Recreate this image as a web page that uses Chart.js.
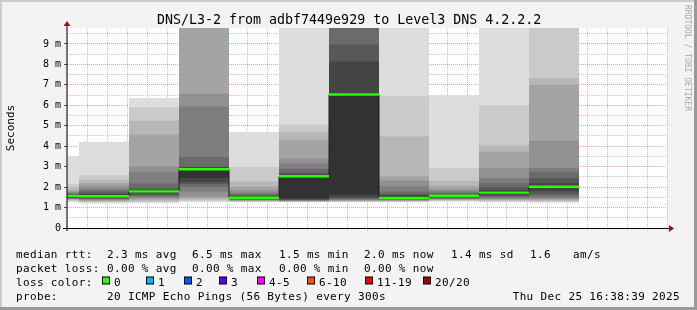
<!DOCTYPE html>
<html>
<head>
<meta charset="utf-8">
<title>DNS/L3-2 smokeping</title>
<script src="https://cdn.jsdelivr.net/npm/chart.js@4.4.1/dist/chart.umd.min.js"></script>
<style>
  html, body { margin: 0; padding: 0; background: #f3f3f3; }
  canvas { display: block; }
</style>
</head>
<body>
<canvas id="smoke" width="697" height="310"></canvas>
<script>
// ─── Data ──────────────────────────────────────────────
const viewStart = '15:38:48';
const viewEnd   = '16:38:48';
const yMaxMs    = 9.78;

// start of each 5 minute slot
const slotStart = ['15:35', '15:40', '15:45', '15:50', '15:55', '16:00',
                   '16:05', '16:10', '16:15', '16:20', '16:25'];

// median rtt per slot, ms
const medianRtt = [1.57, 1.55, 1.79, 2.87, 1.48, 2.53, 6.53, 1.47, 1.58, 1.73, 2.02];

// 20 sorted pings per slot, ms (values above the top are clipped)
const pingRtt = [
    [1.27, 1.32, 1.36, 1.39, 1.42, 1.44, 1.46, 1.48, 1.50, 1.54, 1.60, 1.63, 1.65, 1.68, 1.72, 1.78, 1.85, 1.99, 2.15, 3.51],
    [1.20, 1.26, 1.30, 1.33, 1.36, 1.39, 1.42, 1.45, 1.48, 1.52, 1.59, 1.66, 1.74, 1.82, 1.92, 2.05, 2.20, 2.35, 2.58, 4.21],
    [1.21, 1.27, 1.32, 1.38, 1.44, 1.50, 1.55, 1.60, 1.70, 1.76, 1.82, 1.87, 1.93, 2.17, 2.74, 3.02, 4.57, 5.25, 5.90, 6.36],
    [1.27, 1.32, 1.38, 1.45, 1.53, 1.78, 2.02, 2.15, 2.25, 2.45, 2.95, 2.96, 2.98, 3.47, 5.94, 6.56, 10.3, 11.5, 12.5, 14.0],
    [1.27, 1.29, 1.31, 1.33, 1.35, 1.37, 1.39, 1.41, 1.43, 1.45, 1.52, 1.56, 1.60, 1.66, 1.74, 1.86, 2.02, 2.27, 2.98, 4.70],
    [1.26, 1.28, 1.30, 1.31, 1.32, 1.34, 1.36, 1.38, 1.40, 1.44, 2.58, 2.62, 2.70, 2.90, 3.15, 3.40, 4.30, 4.71, 5.06, 11.0],
    [1.27, 1.29, 1.31, 1.33, 1.35, 1.38, 1.41, 1.45, 1.50, 1.62, 6.58, 8.14, 8.97, 10.2, 11.0, 12.0, 13.0, 14.0, 15.0, 16.0],
    [1.26, 1.29, 1.31, 1.33, 1.35, 1.37, 1.39, 1.41, 1.43, 1.45, 1.55, 1.60, 1.66, 1.79, 2.04, 2.32, 2.53, 4.48, 6.44, 11.0],
    [1.29, 1.32, 1.35, 1.38, 1.41, 1.43, 1.46, 1.49, 1.52, 1.55, 1.61, 1.64, 1.68, 1.72, 1.80, 1.90, 2.05, 2.30, 2.95, 6.48],
    [1.26, 1.30, 1.34, 1.38, 1.42, 1.46, 1.50, 1.55, 1.62, 1.68, 1.78, 1.86, 1.99, 2.20, 2.45, 2.94, 3.73, 4.05, 6.00, 11.0],
    [1.24, 1.28, 1.32, 1.37, 1.42, 1.47, 1.55, 1.65, 1.80, 1.95, 2.08, 2.20, 2.45, 2.75, 2.93, 4.27, 6.99, 7.33, 10.5, 12.0]
];

// legend texts
const titleText  = 'DNS/L3-2 from adbf7449e929 to Level3 DNS 4.2.2.2';
const rttStats   = ['2.3 ms avg', '6.5 ms max', '1.5 ms min', '2.0 ms now', '1.4 ms sd', '1.6', 'am/s'];
const lossStats  = ['0.00 % avg', '0.00 % max', '0.00 % min', '0.00 % now'];
const lossLabels = ['0', '1', '2', '3', '4-5', '6-10', '11-19', '20/20'];
const lossColors = ['#26ff00', '#00b8ff', '#0059ff', '#5e00ff', '#ff00ff', '#ff5500', '#ff0000', '#a10000'];
const probeText  = '20 ICMP Echo Pings (56 Bytes) every 300s';
const stampText  = 'Thu Dec 25 16:38:39 2025';

// ─── Shared config ─────────────────────────────────────
const MONO = "'DejaVu Sans Mono', monospace";
const C = {
    back:    '#f3f3f3',
    canvas:  '#ffffff',
    shadeA:  '#cbcbcb',
    shadeB:  '#999999',
    axis:    '#000000',
    arrow:   '#a01010',
    mgrid:   'rgba(255,0,0,0.38)',
    grid:    'rgba(140,140,140,0.5)',
    median:  '#202020',
    text:    '#000000',
    tick:    { size: 10, family: MONO }
};
const STEP = 5;          // minutes per rrd step
const PINGS = 20;
const HALF = PINGS / 2;
const BAND = 0.06;       // half height of the loss colour band, ms

const toMin = t => {
    const [h, m, s = 0] = t.split(':').map(Number);
    return (h - 15) * 60 + m + s / 60;
};
const fmtTime = v => {
    const h = 15 + Math.floor(v / 60), m = Math.round(v % 60);
    return `${h}:${String(m).padStart(2, '0')}`;
};
const isMult = (v, n) => Math.abs(v / n - Math.round(v / n)) < 1e-6;

// ─── Datasets ──────────────────────────────────────────
const datasets = [];

// loss colour band around the median (on top)
datasets.push({
    type: 'bar',
    data: slotStart.map((s, k) => ({ x: toMin(s) + STEP / 2, y: [medianRtt[k] - BAND, medianRtt[k] + BAND] })),
    backgroundColor: lossColors[0],
    order: 0
});

// median line, stepped
const medPts = slotStart.map((s, k) => ({ x: toMin(s), y: medianRtt[k] }));
medPts.push({ x: toMin(slotStart[slotStart.length - 1]) + STEP, y: medianRtt[medianRtt.length - 1] });
datasets.push({
    type: 'line',
    data: medPts,
    borderColor: C.median,
    borderWidth: 1,
    stepped: true,
    pointRadius: 0,
    fill: false,
    order: 1
});

// smoke: pairs of sorted pings, outer ones light, inner ones dark
for (let i = 0; i < HALF; i++) {
    const g = Math.floor(190 / HALF * (HALF - (i + 1))) + 50;
    datasets.push({
        type: 'bar',
        data: slotStart.map((s, k) => ({ x: toMin(s) + STEP / 2, y: [pingRtt[k][i], pingRtt[k][PINGS - 1 - i]] })),
        backgroundColor: `rgb(${g},${g},${g})`,
        order: 2 + (HALF - 1 - i)
    });
}

// ─── rrdtool style frame, title, legend ────────────────
const rrdFrame = {
    id: 'rrdFrame',
    beforeDraw(chart) {
        const { ctx, chartArea: a, width, height } = chart;
        ctx.save();
        ctx.fillStyle = C.back;
        ctx.fillRect(0, 0, width, height);
        ctx.fillStyle = C.shadeA;
        ctx.fillRect(0, 0, width, 2);
        ctx.fillRect(0, 0, 2, height);
        ctx.fillStyle = C.shadeB;
        ctx.fillRect(0, height - 3, width, 3);
        ctx.fillRect(width - 3, 0, 3, height);
        ctx.fillStyle = C.canvas;
        ctx.fillRect(a.left, a.top, a.right - a.left, a.bottom - a.top);
        ctx.restore();
    },
    afterDraw(chart) {
        const { ctx, chartArea: a } = chart;
        ctx.save();

        // axes with arrows
        ctx.strokeStyle = C.axis;
        ctx.lineWidth = 1;
        ctx.beginPath();
        ctx.moveTo(a.left - 4, a.bottom + 0.5);
        ctx.lineTo(a.right + 3, a.bottom + 0.5);
        ctx.moveTo(a.left, a.bottom + 3);
        ctx.lineTo(a.top - 3 > 0 ? a.left : a.left, a.top - 3);
        ctx.stroke();
        ctx.fillStyle = C.arrow;
        ctx.beginPath();
        ctx.moveTo(a.right + 2, a.bottom - 3);
        ctx.lineTo(a.right + 7, a.bottom + 0.5);
        ctx.lineTo(a.right + 2, a.bottom + 4);
        ctx.closePath();
        ctx.fill();
        ctx.beginPath();
        ctx.moveTo(a.left - 3.5, a.top - 2);
        ctx.lineTo(a.left, a.top - 7);
        ctx.lineTo(a.left + 3.5, a.top - 2);
        ctx.closePath();
        ctx.fill();

        // title
        ctx.fillStyle = C.text;
        ctx.textBaseline = 'alphabetic';
        ctx.font = `13.3px ${MONO}`;
        ctx.fillText(titleText, 157, 24);

        // unit label
        ctx.font = `11px ${MONO}`;
        ctx.save();
        ctx.translate(14, (a.top + a.bottom) / 2);
        ctx.rotate(-Math.PI / 2);
        ctx.textAlign = 'center';
        ctx.fillText('Seconds', 0, 0);
        ctx.restore();

        // watermark
        ctx.save();
        ctx.fillStyle = '#a8a8a8';
        ctx.font = `8px ${MONO}`;
        ctx.translate(685, 5);
        ctx.rotate(Math.PI / 2);
        ctx.fillText('RRDTOOL / TOBI OETIKER', 0, 0);
        ctx.restore();

        // legend block
        ctx.font = `11px ${MONO}`;
        ctx.letterSpacing = '0.35px';
        ctx.fillStyle = C.text;
        const rows = [257.5, 271.5, 285.5, 299.5];
        const statX = [107, 192, 279, 364, 451, 530, 573];
        ctx.fillText('median rtt:', 16, rows[0]);
        rttStats.forEach((t, i) => ctx.fillText(t, statX[i], rows[0]));
        ctx.fillText('packet loss:', 16, rows[1]);
        lossStats.forEach((t, i) => ctx.fillText(t, statX[i], rows[1]));
        ctx.fillText('loss color:', 16, rows[2]);
        const boxX = [102, 146, 184, 219, 257, 307, 365, 423];
        lossLabels.forEach((t, i) => {
            ctx.fillStyle = lossColors[i];
            ctx.fillRect(boxX[i] + 0.5, rows[2] - 8.5, 7, 7);
            ctx.strokeStyle = '#000';
            ctx.strokeRect(boxX[i] + 0.5, rows[2] - 8.5, 7, 7);
            ctx.fillStyle = C.text;
            ctx.fillText(t, boxX[i] + 12, rows[2]);
        });
        ctx.fillText('probe:', 16, rows[3]);
        ctx.fillText(probeText, 107, rows[3]);
        ctx.textAlign = 'right';
        ctx.fillText(stampText, 680, rows[3]);
        ctx.restore();
    }
};

// ─── Chart ─────────────────────────────────────────────
new Chart(document.getElementById('smoke').getContext('2d'), {
    type: 'bar',
    data: { datasets },
    options: {
        responsive: false,
        animation: false,
        events: [],
        layout: { padding: { top: 28, right: 30, left: 0, bottom: 0 } },
        datasets: {
            bar: { grouped: false, barThickness: 50, borderWidth: 0, borderSkipped: false, inflateAmount: 0 }
        },
        plugins: {
            legend: { display: false },
            tooltip: { enabled: false },
            title: { display: false }
        },
        scales: {
            x: {
                type: 'linear',
                min: toMin(viewStart),
                max: toMin(viewEnd),
                offset: false,
                z: 1,
                grid: {
                    offset: false,
                    color: ctx => isMult(ctx.tick.value, 10) ? C.mgrid : C.grid,
                    tickColor: ctx => isMult(ctx.tick.value, 10) ? C.mgrid : C.grid,
                    tickLength: 3,
                    tickBorderDash: [1, 1]
                },
                border: { display: false, dash: [1, 1] },
                ticks: {
                    stepSize: 2,
                    includeBounds: false,
                    autoSkip: false,
                    maxRotation: 0,
                    padding: 2,
                    color: C.text,
                    font: C.tick,
                    callback: v => isMult(v, 10) ? fmtTime(v) : ''
                },
                afterFit: s => { s.height = 82; }
            },
            y: {
                type: 'linear',
                min: 0,
                max: yMaxMs,
                z: 1,
                grid: {
                    color: ctx => isMult(ctx.tick.value, 1) ? C.mgrid : C.grid,
                    tickColor: ctx => isMult(ctx.tick.value, 1) ? '#555' : 'rgba(0,0,0,0)',
                    tickLength: 3
                },
                border: { display: false, dash: [1, 1] },
                ticks: {
                    stepSize: 0.5,
                    includeBounds: false,
                    autoSkip: false,
                    padding: 3,
                    color: C.text,
                    font: C.tick,
                    callback: v => !isMult(v, 1) ? '' : (v === 0 ? '0' : `${v} m`)
                },
                afterFit: s => { s.width = 67; }
            }
        }
    },
    plugins: [rrdFrame]
});
</script>
</body>
</html>
